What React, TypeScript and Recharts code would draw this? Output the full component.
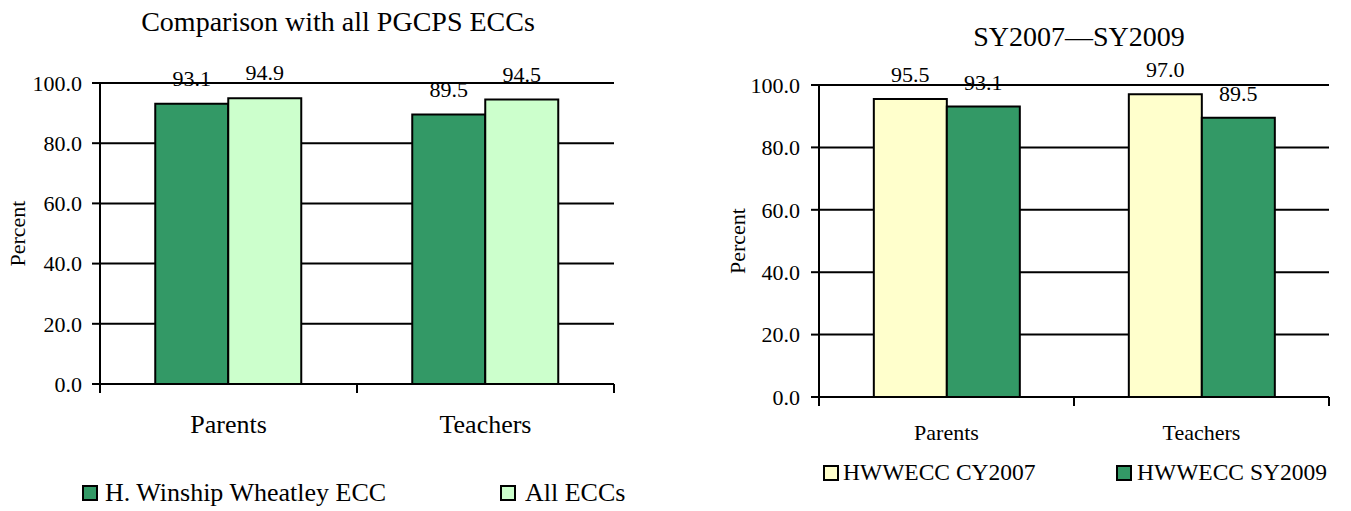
import React from 'react';
import { BarChart, Bar, XAxis, YAxis, CartesianGrid, Legend, LabelList } from 'recharts';

// categories and values
const categories = ['Parents', 'Teachers'];
const wheatleyEcc = [93.1, 89.5];
const allEccs = [94.9, 94.5];
const hwweccCy2007 = [95.5, 97.0];
const hwweccSy2009 = [93.1, 89.5];
const percentTicks = [0, 20, 40, 60, 80, 100];

const FONT = "'Times New Roman', 'Liberation Serif', serif";
const DARK_GREEN = '#339966';
const LIGHT_GREEN = '#CCFFCC';
const LIGHT_YELLOW = '#FFFFCC';

const comparisonData = categories.map((name, i) => ({
  name,
  wheatley: wheatleyEcc[i],
  all: allEccs[i],
}));

const trendData = categories.map((name, i) => ({
  name,
  cy2007: hwweccCy2007[i],
  sy2009: hwweccSy2009[i],
}));

const fmt = (v: any) => Number(v).toFixed(1);

interface LegendSpot {
  key: string;
  square: number;
  text: number;
}

// legend keeps the series order of the bars, not recharts' sorted order
const makeLegend = (spots: LegendSpot[], fontSize: number, box: number) => (props: any) => {
  const payload = props.payload || [];
  return (
    <div style={{ position: 'relative', height: 30, fontFamily: FONT, fontSize, color: '#000' }}>
      {spots.map((spot) => {
        const item = payload.find((p: any) => p.dataKey === spot.key);
        if (!item) return null;
        return (
          <React.Fragment key={spot.key}>
            <div
              style={{
                position: 'absolute',
                left: spot.square,
                top: 15 - box / 2,
                width: box,
                height: box,
                boxSizing: 'border-box',
                border: '2px solid #000',
                background: item.color,
              }}
            />
            <div
              style={{
                position: 'absolute',
                left: spot.text,
                top: 15 - fontSize / 2,
                lineHeight: `${fontSize}px`,
                whiteSpace: 'nowrap',
              }}
            >
              {item.value}
            </div>
          </React.Fragment>
        );
      })}
    </div>
  );
};

const axisText = (size: number) => ({ fill: '#000', fontSize: size, fontFamily: FONT });

// category label plus Excel-style tick marks on the band edges
const makeCategoryTick = (fontSize: number, half: number, margin: number) => (props: any) => {
  const { x, y, payload, index } = props;
  const axisY = y - margin;
  return (
    <g>
      <line x1={x - half} x2={x - half} y1={axisY} y2={axisY + 9} stroke="#000" strokeWidth={2} />
      {index === categories.length - 1 && (
        <line x1={x + half} x2={x + half} y1={axisY} y2={axisY + 9} stroke="#000" strokeWidth={2} />
      )}
      <text x={x} y={y} dy="0.71em" textAnchor="middle" fill="#000" fontSize={fontSize} fontFamily={FONT}>
        {payload.value}
      </text>
    </g>
  );
};

const Title: React.FC<{ text: string; cx: number; top: number }> = ({ text, cx, top }) => (
  <div
    style={{
      position: 'absolute',
      left: cx - 300,
      width: 600,
      top,
      textAlign: 'center',
      fontFamily: FONT,
      fontSize: 28,
      lineHeight: '28px',
      color: '#000',
      whiteSpace: 'nowrap',
    }}
  >
    {text}
  </div>
);

export default function App() {
  // plot widths: chart width - y axis width - right margin
  const leftHalfBand = (650 - 100 - 36) / categories.length / 2;
  const rightHalfBand = (651 - 119 - 22) / categories.length / 2;

  return (
    <div style={{ position: 'absolute', left: 0, top: 0, width: 1351, height: 511, background: '#fff' }}>
      <Title text="Comparison with all PGCPS ECCs" cx={338} top={8} />
      <Title text="SY2007—SY2009" cx={1079} top={23} />

      <div style={{ position: 'absolute', left: 0, top: 0 }}>
        <BarChart
          width={650}
          height={511}
          data={comparisonData}
          margin={{ top: 83, right: 36, left: 0, bottom: 0 }}
          barCategoryGap="21.5%"
          barGap={0}
        >
          <CartesianGrid vertical={false} stroke="#000" strokeWidth={2} />
          <XAxis
            dataKey="name"
            height={127}
            axisLine={{ stroke: '#000', strokeWidth: 2 }}
            tickLine={false}
            tickSize={0}
            tickMargin={31}
            tick={makeCategoryTick(26, leftHalfBand, 31)}
          />
          <YAxis
            domain={[0, 100]}
            ticks={percentTicks}
            tickFormatter={fmt}
            width={100}
            tickSize={8}
            tickMargin={10}
            axisLine={{ stroke: '#000', strokeWidth: 2 }}
            tickLine={{ stroke: '#000', strokeWidth: 2 }}
            tick={axisText(22)}
            label={{
              value: 'Percent',
              angle: -90,
              position: 'insideLeft',
              offset: 17,
              style: { textAnchor: 'middle', fill: '#000', fontSize: 22, fontFamily: FONT },
            }}
          />
          <Legend
            layout="horizontal"
            verticalAlign="middle"
            align="center"
            wrapperStyle={{ top: 478, left: 0, width: 650 }}
            content={makeLegend(
              [
                { key: 'wheatley', square: 82, text: 105 },
                { key: 'all', square: 500, text: 525 },
              ],
              26,
              16
            )}
          />
          <Bar
            dataKey="wheatley"
            name="H. Winship Wheatley ECC"
            fill={DARK_GREEN}
            stroke="#000"
            strokeWidth={2}
            isAnimationActive={false}
          >
            <LabelList dataKey="wheatley" position="top" offset={18} formatter={fmt} style={axisText(22)} />
          </Bar>
          <Bar
            dataKey="all"
            name="All ECCs"
            fill={LIGHT_GREEN}
            stroke="#000"
            strokeWidth={2}
            isAnimationActive={false}
          >
            <LabelList dataKey="all" position="top" offset={18} formatter={fmt} style={axisText(22)} />
          </Bar>
        </BarChart>
      </div>

      <div style={{ position: 'absolute', left: 700, top: 0 }}>
        <BarChart
          width={651}
          height={511}
          data={trendData}
          margin={{ top: 85, right: 22, left: 0, bottom: 0 }}
          barCategoryGap="21.5%"
          barGap={0}
        >
          <CartesianGrid vertical={false} stroke="#000" strokeWidth={2} />
          <XAxis
            dataKey="name"
            height={114}
            axisLine={{ stroke: '#000', strokeWidth: 2 }}
            tickLine={false}
            tickSize={0}
            tickMargin={27}
            tick={makeCategoryTick(22, rightHalfBand, 27)}
          />
          <YAxis
            domain={[0, 100]}
            ticks={percentTicks}
            tickFormatter={fmt}
            width={119}
            tickSize={8}
            tickMargin={11}
            axisLine={{ stroke: '#000', strokeWidth: 2 }}
            tickLine={{ stroke: '#000', strokeWidth: 2 }}
            tick={axisText(22)}
            label={{
              value: 'Percent',
              angle: -90,
              position: 'insideLeft',
              offset: 37,
              style: { textAnchor: 'middle', fill: '#000', fontSize: 22, fontFamily: FONT },
            }}
          />
          <Legend
            layout="horizontal"
            verticalAlign="middle"
            align="center"
            wrapperStyle={{ top: 458, left: 0, width: 651 }}
            content={makeLegend(
              [
                { key: 'cy2007', square: 123, text: 143 },
                { key: 'sy2009', square: 416, text: 437 },
              ],
              23.5,
              16
            )}
          />
          <Bar
            dataKey="cy2007"
            name="HWWECC CY2007"
            fill={LIGHT_YELLOW}
            stroke="#000"
            strokeWidth={2}
            isAnimationActive={false}
          >
            <LabelList dataKey="cy2007" position="top" offset={17} formatter={fmt} style={axisText(22)} />
          </Bar>
          <Bar
            dataKey="sy2009"
            name="HWWECC SY2009"
            fill={DARK_GREEN}
            stroke="#000"
            strokeWidth={2}
            isAnimationActive={false}
          >
            <LabelList dataKey="sy2009" position="top" offset={17} formatter={fmt} style={axisText(22)} />
          </Bar>
        </BarChart>
      </div>
    </div>
  );
}
